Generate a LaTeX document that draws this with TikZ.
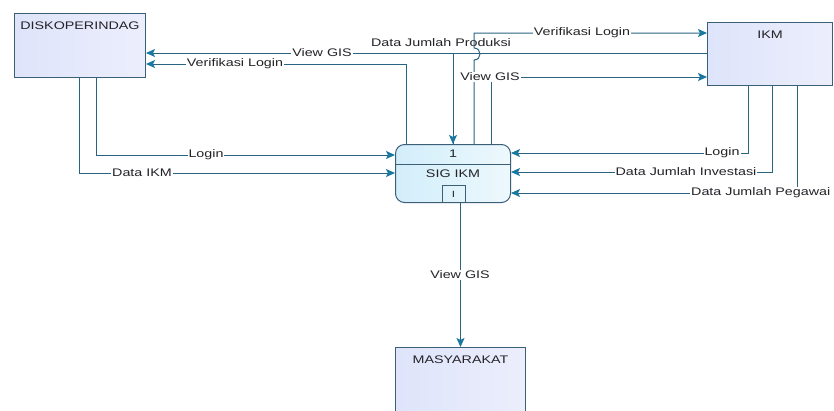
\documentclass[tikz,border=0pt]{standalone}
\usepackage{fontspec}
\setmainfont{Liberation Sans}[FakeStretch=1.3]
\usetikzlibrary{arrows.meta}
\definecolor{lnc}{RGB}{40,100,130}
\definecolor{arc}{RGB}{25,120,160}
\definecolor{bxd}{RGB}{60,95,120}
\definecolor{bxf}{RGB}{222,228,250}
\definecolor{bxg}{RGB}{236,238,252}
\definecolor{prf}{RGB}{210,238,250}
\definecolor{txc}{RGB}{35,35,40}
\begin{document}
\begin{tikzpicture}[x=1pt,y=-1pt,
  every node/.style={font=\fontsize{11}{12}\selectfont, text=txc},
  entity/.style={draw=bxd, line width=1pt, left color=bxf, right color=bxg, anchor=north west, inner sep=0pt},
  flow/.style={draw=lnc, line width=1pt, -{Stealth[length=9pt,width=8pt,inset=2pt,color=arc]}},
  lbl/.style={fill=white, inner sep=1pt}]
\fill[white] (0,0) rectangle (834,410);
\useasboundingbox (0,0) rectangle (834,410);

% entities
\node[entity, minimum width=131pt, minimum height=64pt,
      label={[anchor=north, yshift=-5pt]north:DISKOPERINDAG}] (disk) at (14,13) {};
\node[entity, minimum width=125pt, minimum height=63pt,
      label={[anchor=north, yshift=-5pt]north:IKM}] (ikm) at (707,22) {};
\node[entity, minimum width=130pt, minimum height=80pt,
      label={[anchor=north, yshift=-5pt]north:MASYARAKAT}] (masy) at (395,347) {};

% process
\node[draw=bxd, line width=1pt, rounded corners=9pt, minimum width=115pt, minimum height=58pt,
      anchor=north west, inner sep=0pt, left color=prf, right color=prf!40!white] (proc) at (395,144) {};
\coordinate (dv) at (0,164);
\draw[bxd, line width=0.9pt] (proc.west |- dv) -- (proc.east |- dv);
\node (pnum) at (453,154) {1};
\node (pname) at (453,174) {SIG IKM};
\node[draw=bxd, line width=0.9pt, minimum width=23pt, minimum height=17pt, inner sep=0pt, anchor=north] (ploc) at (453.5,185) {\fontsize{9}{9}\selectfont I};

% turning coordinates
\coordinate (c1) at (96,155);
\coordinate (c2) at (79,173);
\coordinate (c3) at (453,53);
\coordinate (c4) at (406,64);
\coordinate (c5) at (474,33);
\coordinate (c6) at (491,77);
\coordinate (c7) at (748,153);
\coordinate (c8) at (772,172);
\coordinate (c9) at (797,193);
\coordinate (j1) at (474,60);
\coordinate (j2) at (474,48);

% flows
\draw[flow] (disk.south -| c1) |- (proc.west |- c1);
\draw[flow] (disk.south -| c2) |- (proc.west |- c2);
\draw[flow] (proc.north -| c3) |- (disk.east |- c3);
\draw[flow] (proc.north -| c4) |- (disk.east |- c4);
\draw[flow] (ikm.west |- c3) -| (proc.north -| c3);
\draw[flow] (proc.north -| c5) -- (j1) .. controls (482,60) and (482,48) .. (j2) |- (ikm.west |- c5);
\draw[flow] (proc.north -| c6) |- (ikm.west |- c6);
\draw[flow] (ikm.south -| c7) |- (proc.east |- c7);
\draw[flow] (ikm.south -| c8) |- (proc.east |- c8);
\draw[flow] (ikm.south -| c9) |- (proc.east |- c9);
\draw[flow] (proc.south -| masy.north) -- (masy.north);

% labels
\node[lbl] (l1) at (206,155) {Login};
\node[lbl] (l2) at (142,173) {Data IKM};
\node[lbl] (l3) at (322,53) {View GIS};
\node[lbl] (l4) at (235,64) {Verifikasi Login};
\node[inner sep=1pt] (l5) at (441,43) {Data Jumlah Produksi};
\node[lbl] (l6) at (582,33) {Verifikasi Login};
\node[lbl] (l7) at (490,77) {View GIS};
\node[lbl] (l8) at (722,153) {Login};
\node[lbl] (l9) at (686,172) {Data Jumlah Investasi};
\node[lbl, anchor=west] (l10) at (690,193) {Data Jumlah Pegawai};
\node[lbl] (l11) at (460,275) {View GIS};
\end{tikzpicture}
\end{document}
